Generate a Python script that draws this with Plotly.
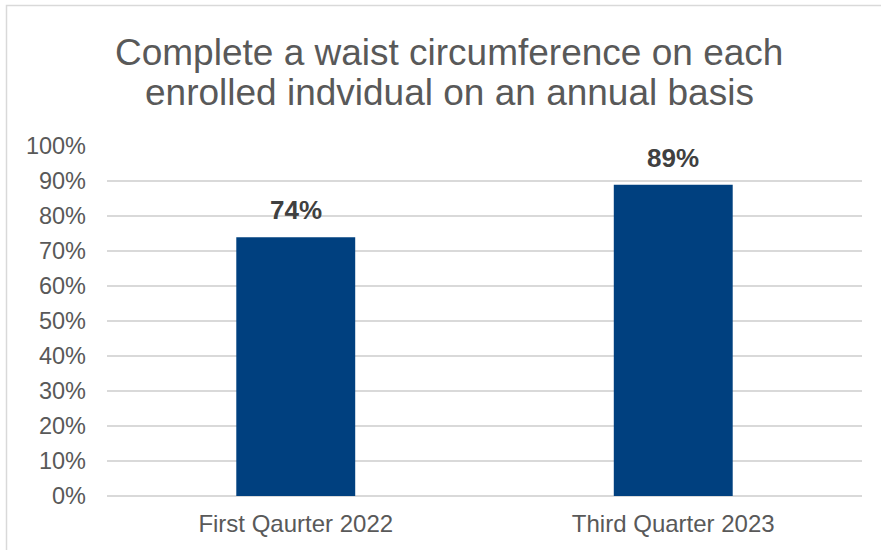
import plotly.graph_objects as go

# Share of enrolled individuals with a waist circumference completed
categories = ["First Qaurter 2022", "Third Quarter 2023"]
values = [0.74, 0.89]
value_labels = ["74%", "89%"]
y_ticks = [0.0, 0.1, 0.2, 0.3, 0.4, 0.5, 0.6, 0.7, 0.8, 0.9, 1.0]
y_tick_labels = ["0%", "10%", "20%", "30%", "40%", "50%", "60%", "70%", "80%", "90%", "100%"]
title_lines = ["Complete a waist circumference on each",
               "enrolled indvidual on an annual basis"]

FONT = "Liberation Sans, Arial, sans-serif"
TEXT_GRAY = "#595959"
GRID = "#D9D9D9"
BAR = "#00407F"

fig = go.Figure(
    go.Bar(
        x=categories,
        y=values,
        width=0.315,
        marker=dict(color=BAR, line=dict(width=0)),
        hoverinfo="skip",
    )
)

# Bold value labels above each bar
for cat, val, lab in zip(categories, values, value_labels):
    fig.add_annotation(
        x=cat, y=val, text=f"<b>{lab}</b>", showarrow=False,
        yanchor="bottom", yshift=10,
        font=dict(family=FONT, size=26, color="#404040"),
    )

L, R, T, B = 107, 19, 146, 54
W, H = 881, 550
pw, ph = W - L - R, H - T - B

# Two-line chart title, each line placed on its own
for line, ymid in zip(title_lines, [52, 93]):
    fig.add_annotation(
        text=line, showarrow=False, xref="paper", yref="paper",
        x=(449 - L) / pw, xanchor="center",
        y=(H - B - ymid) / ph, yanchor="middle",
        font=dict(family=FONT, size=37, color=TEXT_GRAY),
    )

# Light chart-area frame running off the right and bottom edges
fig.add_shape(
    type="rect", xref="paper", yref="paper",
    x0=(6.5 - L) / pw, x1=(W + 5 - L) / pw,
    y0=-(B + 5) / ph, y1=(H - 5.5 - B) / ph,
    line=dict(color=GRID, width=1.5), fillcolor="rgba(0,0,0,0)", layer="below",
)

fig.update_layout(
    width=W, height=H,
    margin=dict(l=L, r=R, t=T, b=B, pad=0),
    paper_bgcolor="white", plot_bgcolor="white",
    showlegend=False,
    xaxis=dict(
        showgrid=False, showline=False, zeroline=False, ticks="",
        tickfont=dict(family=FONT, size=24, color=TEXT_GRAY),
        ticklabelstandoff=11,
    ),
    yaxis=dict(
        range=[0, 1.0005],
        tickvals=y_ticks, ticktext=y_tick_labels,
        showgrid=True, gridcolor=GRID, gridwidth=1.5,
        zeroline=True, zerolinecolor=GRID, zerolinewidth=1.5,
        showline=False, ticks="",
        tickfont=dict(family=FONT, size=23.5, color=TEXT_GRAY),
        ticklabelstandoff=20,
    ),
)

fig.write_html("out.html")
